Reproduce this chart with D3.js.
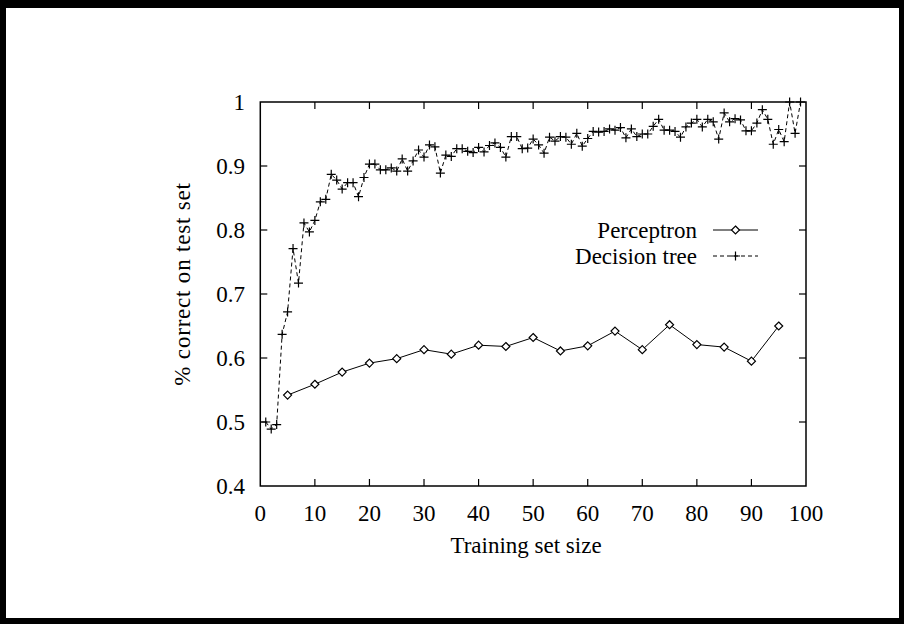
<!DOCTYPE html>
<html>
<head>
<meta charset="utf-8">
<script src="https://cdn.jsdelivr.net/npm/d3@7/dist/d3.min.js"></script>
<style>
  html, body { margin: 0; padding: 0; background: #fff; }
  svg { display: block; }
  text { font-family: "Liberation Serif", "DejaVu Serif", serif; fill: #000; }
</style>
</head>
<body>
<svg id="chart" width="904" height="624"></svg>
<script>
// ---- data ----
const xTicks = [0, 10, 20, 30, 40, 50, 60, 70, 80, 90, 100];
const yTicks = [0.4, 0.5, 0.6, 0.7, 0.8, 0.9, 1];
const seriesNames = ["Perceptron", "Decision tree"];

const perceptronX = [5, 10, 15, 20, 25, 30, 35, 40, 45, 50, 55, 60, 65, 70, 75, 80, 85, 90, 95];
const perceptronY = [0.542, 0.559, 0.578, 0.592, 0.599, 0.613, 0.606, 0.620, 0.618, 0.632,
                     0.611, 0.619, 0.642, 0.613, 0.652, 0.621, 0.617, 0.595, 0.650];

const treeY = [
  0.500, 0.489, 0.496, 0.637, 0.672, 0.771, 0.717, 0.811, 0.797, 0.815,   // 1-10
  0.844, 0.848, 0.887, 0.878, 0.864, 0.874, 0.874, 0.852, 0.882, 0.903,   // 11-20
  0.903, 0.894, 0.894, 0.897, 0.892, 0.911, 0.892, 0.908, 0.925, 0.914,   // 21-30
  0.933, 0.930, 0.889, 0.917, 0.915, 0.927, 0.927, 0.923, 0.921, 0.929,   // 31-40
  0.922, 0.932, 0.936, 0.929, 0.914, 0.946, 0.946, 0.927, 0.928, 0.942,   // 41-50
  0.933, 0.920, 0.945, 0.939, 0.946, 0.945, 0.934, 0.951, 0.931, 0.943,   // 51-60
  0.954, 0.953, 0.954, 0.958, 0.956, 0.960, 0.944, 0.958, 0.946, 0.950,   // 61-70
  0.950, 0.962, 0.973, 0.956, 0.956, 0.954, 0.945, 0.961, 0.967, 0.973,   // 71-80
  0.961, 0.973, 0.969, 0.942, 0.983, 0.969, 0.974, 0.972, 0.955, 0.955,   // 81-90
  0.967, 0.988, 0.973, 0.934, 0.957, 0.938, 1.000, 0.951, 1.000          // 91-99
];
const treeX = treeY.map((d, i) => i + 1);

// ---- layout ----
const svg = d3.select("#chart");
const W = 904, H = 624;
const plot = { left: 260.3, right: 806, top: 102, bottom: 486 };
const FS = 23;

// frame
svg.append("rect").attr("x", 0).attr("y", 0).attr("width", W).attr("height", H).attr("fill", "#000");
svg.append("rect").attr("x", 6).attr("y", 8).attr("width", W - 11).attr("height", H - 14).attr("fill", "#fff");

const x = d3.scaleLinear().domain([0, 100]).range([plot.left, plot.right]);
const y = d3.scaleLinear().domain([0.4, 1]).range([plot.bottom, plot.top]);

const tickLen = 7;
const g = svg.append("g");

// ticks (inward, mirrored)
xTicks.forEach(t => {
  if (t === 0 || t === 100) return;
  g.append("line").attr("x1", x(t)).attr("x2", x(t)).attr("y1", plot.bottom).attr("y2", plot.bottom - tickLen)
    .attr("stroke", "#000").attr("stroke-width", 1.2);
  g.append("line").attr("x1", x(t)).attr("x2", x(t)).attr("y1", plot.top).attr("y2", plot.top + tickLen)
    .attr("stroke", "#000").attr("stroke-width", 1.2);
});
yTicks.forEach(t => {
  if (t === 0.4 || t === 1) return;
  g.append("line").attr("x1", plot.left).attr("x2", plot.left + tickLen).attr("y1", y(t)).attr("y2", y(t))
    .attr("stroke", "#000").attr("stroke-width", 1.2);
  g.append("line").attr("x1", plot.right).attr("x2", plot.right - tickLen).attr("y1", y(t)).attr("y2", y(t))
    .attr("stroke", "#000").attr("stroke-width", 1.2);
});

// tick labels
g.selectAll(".xl").data(xTicks).enter().append("text")
  .attr("x", d => x(d)).attr("y", 521).attr("text-anchor", "middle")
  .attr("font-size", FS).text(d => d3.format("d")(d));
g.selectAll(".yl").data(yTicks).enter().append("text")
  .attr("x", 245).attr("y", d => y(d)).attr("dy", "0.35em").attr("text-anchor", "end")
  .attr("font-size", FS).text(d => d === 1 ? "1" : d3.format(".1f")(d));

// axis labels
svg.append("text").attr("x", 526).attr("y", 553).attr("text-anchor", "middle")
  .attr("font-size", FS).text("Training set size");
svg.append("text").attr("transform", `translate(190,284) rotate(-90)`)
  .attr("text-anchor", "middle").attr("font-size", FS).attr("letter-spacing", 0.8).text("% correct on test set");

// series
const treeData = treeX.map((d, i) => [d, treeY[i]]);
const percData = perceptronX.map((d, i) => [d, perceptronY[i]]);
const line = d3.line().x(d => x(d[0])).y(d => y(d[1]));

svg.append("defs").append("clipPath").attr("id", "clip")
  .append("rect").attr("x", plot.left - 6).attr("y", plot.top - 6)
  .attr("width", plot.right - plot.left + 12).attr("height", plot.bottom - plot.top + 12);

const series = svg.append("g").attr("clip-path", "url(#clip)");

series.append("path").datum(treeData).attr("d", line).attr("fill", "none")
  .attr("stroke", "#000").attr("stroke-width", 1).attr("stroke-dasharray", "4,3");
series.append("path").datum(percData).attr("d", line).attr("fill", "none")
  .attr("stroke", "#000").attr("stroke-width", 1);

const plusSize = 4.5;
function plus(sel, cx, cy) {
  sel.append("path").attr("d", `M${cx - plusSize},${cy}H${cx + plusSize}M${cx},${cy - plusSize}V${cy + plusSize}`)
    .attr("stroke", "#000").attr("stroke-width", 1.2).attr("fill", "none");
}
const dia = 4;
function diamond(sel, cx, cy) {
  sel.append("path").attr("d", `M${cx},${cy - dia}L${cx + dia},${cy}L${cx},${cy + dia}L${cx - dia},${cy}Z`)
    .attr("stroke", "#000").attr("stroke-width", 1.2).attr("fill", "#fff");
}
treeData.forEach(d => plus(series, x(d[0]), y(d[1])));
percData.forEach(d => diamond(series, x(d[0]), y(d[1])));

// border of plot
svg.append("rect").attr("x", plot.left).attr("y", plot.top)
  .attr("width", plot.right - plot.left).attr("height", plot.bottom - plot.top)
  .attr("fill", "none").attr("stroke", "#000").attr("stroke-width", 1.5);

// legend
const legX = 697, sx1 = 713, sx2 = 758;
const legRows = [230, 256];
svg.append("text").attr("x", legX).attr("y", legRows[0]).attr("dy", "0.35em").attr("text-anchor", "end")
  .attr("font-size", FS).text(seriesNames[0]);
svg.append("line").attr("x1", sx1).attr("x2", sx2).attr("y1", legRows[0]).attr("y2", legRows[0])
  .attr("stroke", "#000").attr("stroke-width", 1);
diamond(svg, (sx1 + sx2) / 2, legRows[0]);
svg.append("text").attr("x", legX).attr("y", legRows[1]).attr("dy", "0.35em").attr("text-anchor", "end")
  .attr("font-size", FS).text(seriesNames[1]);
svg.append("line").attr("x1", sx1).attr("x2", sx2).attr("y1", legRows[1]).attr("y2", legRows[1])
  .attr("stroke", "#000").attr("stroke-width", 1).attr("stroke-dasharray", "4,3");
plus(svg, (sx1 + sx2) / 2, legRows[1]);
</script>
</body>
</html>
